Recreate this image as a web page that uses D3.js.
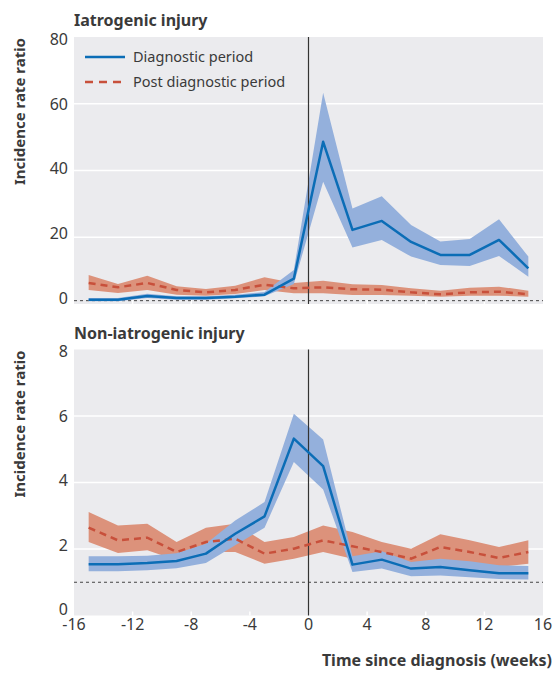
<!DOCTYPE html>
<html>
<head>
<meta charset="utf-8">
<script src="https://cdn.jsdelivr.net/npm/d3@7"></script>
<style>
  body { margin: 0; background: #fff; }
  svg { display: block; font-family: "Noto Sans", sans-serif; }
</style>
</head>
<body>
<script>
// weeks since diagnosis (midpoints of 2 week bins)
var weeks = [-15, -13, -11, -9, -7, -5, -3, -1, 1, 3, 5, 7, 9, 11, 13, 15];
var xTicks = [-16, -12, -8, -4, 0, 4, 8, 12, 16];

// Iatrogenic injury
var iatroDiag   = [1.3, 1.3, 2.4, 1.8, 1.8, 2.2, 2.8, 7.6, 48.6, 22.2, 24.9, 18.6, 14.7, 14.7, 19.2, 10.7];
var iatroDiagLo = [0.8, 0.8, 1.8, 1.3, 1.3, 1.7, 2.3, 6.0, 36.6, 16.9, 19.2, 14.2, 11.7, 11.4, 14.4, 8.2];
var iatroDiagHi = [1.8, 1.8, 3.1, 2.3, 2.3, 2.8, 3.6, 10.2, 63.3, 28.6, 32.3, 23.7, 18.7, 19.5, 25.4, 14.2];
var iatroPost   = [6.3, 5.0, 6.3, 4.2, 3.5, 4.2, 5.8, 4.7, 5.0, 4.4, 4.3, 3.5, 2.9, 3.5, 3.7, 2.9];
var iatroPostLo = [4.2, 3.3, 4.2, 2.8, 2.5, 3.0, 4.2, 3.2, 3.2, 2.7, 2.7, 2.5, 2.2, 2.5, 2.5, 2.2];
var iatroPostHi = [8.7, 6.0, 8.5, 5.3, 4.5, 5.5, 8.0, 6.3, 7.0, 5.9, 5.7, 4.7, 4.0, 4.9, 5.2, 4.0];
var iatroTicks = [0, 20, 40, 60, 80];

// Non-iatrogenic injury
var nonDiag   = [1.54, 1.54, 1.58, 1.64, 1.86, 2.46, 2.98, 5.32, 4.49, 1.53, 1.68, 1.41, 1.46, 1.36, 1.27, 1.27];
var nonDiagLo = [1.33, 1.33, 1.36, 1.42, 1.58, 2.11, 2.64, 4.62, 3.79, 1.31, 1.41, 1.18, 1.20, 1.15, 1.10, 1.08];
var nonDiagHi = [1.78, 1.78, 1.80, 1.87, 2.16, 2.86, 3.41, 6.07, 5.29, 1.78, 1.93, 1.61, 1.71, 1.63, 1.51, 1.49];
var nonPost   = [2.64, 2.26, 2.34, 1.91, 2.21, 2.31, 1.86, 2.01, 2.26, 2.08, 1.91, 1.71, 2.06, 1.91, 1.73, 1.91];
var nonPostLo = [2.21, 1.88, 1.96, 1.66, 1.91, 1.91, 1.56, 1.71, 1.91, 1.71, 1.56, 1.41, 1.66, 1.56, 1.46, 1.56];
var nonPostHi = [3.11, 2.71, 2.76, 2.21, 2.64, 2.76, 2.21, 2.36, 2.71, 2.51, 2.21, 2.01, 2.44, 2.26, 2.06, 2.26];
var nonTicks = [0, 2, 4, 6, 8];

var seriesNames = ["Diagnostic period", "Post diagnostic period"];

var svgWidth = 553;
var svgHeight = 673;

var blue = "#0b6db6", blueBand = "#94b0dc";
var red = "#c8503b", redBand = "#dc927b";
var panelFill = "#ebebee";
var textCol = "#3a3a3a";

var svg = d3.select("body").append("svg")
  .attr("width", svgWidth)
  .attr("height", svgHeight);

var x = d3.scaleLinear().domain([-16, 16]).range([74, 543]);

function drawPanel(opts) {
  var y = d3.scaleLinear().domain([0, opts.max]).range([opts.bottom, opts.top]);
  // tick labels sit a little inside the panel, like the original
  var yLab = d3.scaleLinear().domain([0, opts.max]).range([opts.bottom - 6, opts.top + 2]);
  var g = svg.append("g");

  g.append("rect")
    .attr("x", x.range()[0]).attr("y", opts.top)
    .attr("width", x.range()[1] - x.range()[0])
    .attr("height", opts.bottom - opts.top)
    .attr("fill", panelFill);

  // gridlines
  g.selectAll(".grid").data(opts.ticks.slice(1, -1)).enter().append("line")
    .attr("x1", x.range()[0]).attr("x2", x.range()[1])
    .attr("y1", d => y(d)).attr("y2", d => y(d))
    .attr("stroke", "#fff").attr("stroke-width", 1.5);

  // small white ticks on the bottom edge
  g.selectAll(".xt").data(xTicks.slice(1, -1)).enter().append("line")
    .attr("x1", d => x(d)).attr("x2", d => x(d))
    .attr("y1", opts.bottom).attr("y2", opts.bottom - 4)
    .attr("stroke", "#fff").attr("stroke-width", 1.5);

  // y tick labels
  g.selectAll(".yl").data(opts.ticks).enter().append("text")
    .attr("x", 68).attr("y", d => yLab(d))
    .attr("dy", "0.36em")
    .attr("text-anchor", "end")
    .attr("font-size", 16)
    .attr("fill", textCol)
    .text(d => d);

  // reference line at IRR = 1
  g.append("line")
    .attr("x1", x.range()[0]).attr("x2", x.range()[1])
    .attr("y1", y(1)).attr("y2", y(1))
    .attr("stroke", "#444").attr("stroke-width", 1)
    .attr("stroke-dasharray", "3,3");

  var area = (lo, hi) => d3.area()
    .x((d, i) => x(weeks[i]))
    .y0((d, i) => y(lo[i]))
    .y1((d, i) => y(hi[i]));
  var line = d3.line()
    .x((d, i) => x(weeks[i]))
    .y(d => y(d));

  g.append("path").datum(opts.post).attr("d", area(opts.postLo, opts.postHi)).attr("fill", redBand);
  g.append("path").datum(opts.diag).attr("d", area(opts.diagLo, opts.diagHi)).attr("fill", blueBand);

  // vertical line at diagnosis
  g.append("line")
    .attr("x1", x(0)).attr("x2", x(0))
    .attr("y1", opts.top).attr("y2", opts.bottom)
    .attr("stroke", "#333").attr("stroke-width", 1.2);

  g.append("path").datum(opts.post).attr("d", line)
    .attr("fill", "none").attr("stroke", red).attr("stroke-width", 2.5)
    .attr("stroke-dasharray", "7,5");
  g.append("path").datum(opts.diag).attr("d", line)
    .attr("fill", "none").attr("stroke", blue).attr("stroke-width", 2.5)
    .attr("stroke-linejoin", "round");

  // panel title
  g.append("text")
    .attr("x", 74).attr("y", opts.top - 11)
    .attr("font-size", 16).attr("font-weight", "bold")
    .attr("fill", textCol)
    .text(opts.title);

  // y axis title
  g.append("text")
    .attr("transform", `translate(25, ${opts.top + 1}) rotate(-90)`)
    .attr("text-anchor", "end")
    .attr("font-size", 15).attr("font-weight", "bold")
    .attr("fill", textCol)
    .text("Incidence rate ratio");

  return g;
}

drawPanel({
  title: "Iatrogenic injury", max: 80, ticks: iatroTicks, top: 37, bottom: 304,
  diag: iatroDiag, diagLo: iatroDiagLo, diagHi: iatroDiagHi,
  post: iatroPost, postLo: iatroPostLo, postHi: iatroPostHi
});

drawPanel({
  title: "Non-iatrogenic injury", max: 8, ticks: nonTicks, top: 349.5, bottom: 615.5,
  diag: nonDiag, diagLo: nonDiagLo, diagHi: nonDiagHi,
  post: nonPost, postLo: nonPostLo, postHi: nonPostHi
});

// legend in the top panel
var legend = svg.append("g");
legend.selectAll("line").data(seriesNames).enter().append("line")
  .attr("x1", 85).attr("x2", 125)
  .attr("y1", (d, i) => 57 + i * 25).attr("y2", (d, i) => 57 + i * 25)
  .attr("stroke", (d, i) => i ? red : blue)
  .attr("stroke-width", 2.5)
  .attr("stroke-dasharray", (d, i) => i ? "8,6" : null);
legend.selectAll("text").data(seriesNames).enter().append("text")
  .attr("x", 133).attr("y", (d, i) => 57 + i * 25)
  .attr("dy", "0.35em")
  .attr("font-size", 14.5)
  .attr("fill", textCol)
  .text(d => d);

// x axis tick labels
svg.selectAll(".xl").data(xTicks).enter().append("text")
  .attr("x", d => x(d)).attr("y", 630)
  .attr("text-anchor", "middle")
  .attr("font-size", 16)
  .attr("fill", textCol)
  .text(d => d);

svg.append("text")
  .attr("x", 552).attr("y", 666)
  .attr("text-anchor", "end")
  .attr("font-size", 16).attr("font-weight", "bold")
  .attr("fill", textCol)
  .text("Time since diagnosis (weeks)");
</script>
</body>
</html>
